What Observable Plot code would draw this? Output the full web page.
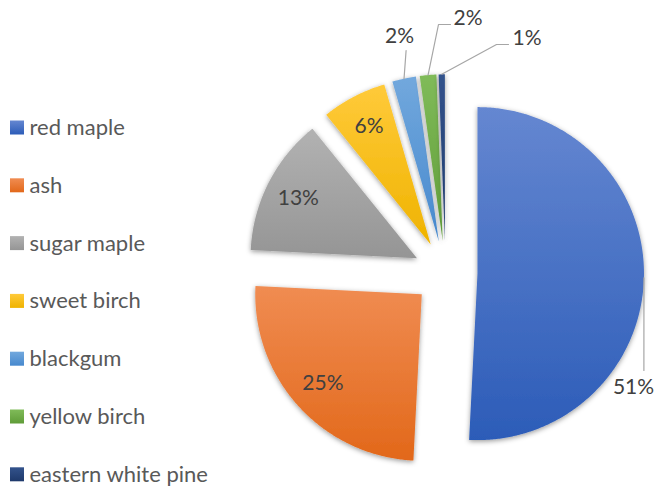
<!DOCTYPE html>
<html>
<head>
<meta charset="utf-8">
<script src="https://cdn.jsdelivr.net/npm/d3@7"></script>
<script src="https://cdn.jsdelivr.net/npm/@observablehq/plot@0.6"></script>
<style>
  html, body { margin: 0; padding: 0; background: #fff; }
  #chart svg { display: block; }
</style>
</head>
<body>
<div id="chart"></div>
<script>
// ---- data ----
const species = ["red maple", "ash", "sugar maple", "sweet birch", "blackgum", "yellow birch", "eastern white pine"];
const shares = [50.8, 25.0, 13.4, 6.3, 2.3, 1.6, 0.6];
const pctLabels = ["51%", "25%", "13%", "6%", "2%", "2%", "1%"];

// ---- styles ----
const topColors = ["#6587D1", "#F08C52", "#B2B2B2", "#FFCA3A", "#72A8DD", "#80BB59", "#33538C"];
const bottomColors = ["#2C5CB8", "#E2681A", "#959595", "#EFB300", "#4789CE", "#5F9C38", "#1E396B"];

// ---- layout ----
const W = 655, H = 487;
const cx = 445, cy = 272.3, R = 166.5, explode = 32;
const insideLabelRadius = 0.8;
const outside = {
  "red maple":          {path: [[643.4, 370]], label: [633, 387], anchor: "middle"},
  "blackgum":           {path: [[405.6, 50]], label: [399, 36], anchor: "middle"},
  "yellow birch":       {path: [[438, 24], [450, 24]], label: [453, 18], anchor: "start"},
  "eastern white pine": {path: [[496, 44], [508, 44]], label: [512, 38], anchor: "start"}
};

const total = d3.sum(shares);
const rad = d => d * Math.PI / 180;
const dir = a => [Math.sin(rad(a)), -Math.cos(rad(a))];

let acc = 0;
const slices = species.map((name, i) => {
  const a0 = acc / total * 360;
  acc += shares[i];
  const a1 = acc / total * 360;
  const mid = (a0 + a1) / 2;
  const [dx, dy] = dir(mid);
  const apex = [cx + explode * dx, cy + explode * dy];
  const pts = [{x: apex[0], y: apex[1], name}];
  const n = Math.max(2, Math.ceil((a1 - a0) / 0.5));
  for (let k = 0; k <= n; k++) {
    const a = a0 + (a1 - a0) * k / n;
    const [ux, uy] = dir(a);
    pts.push({x: apex[0] + R * ux, y: apex[1] + R * uy, name});
  }
  pts.push({x: apex[0], y: apex[1], name});
  return {name, i, a0, a1, mid, apex, pts};
});

const insideLabels = [];
const outsideLabels = [];
const leaders = [];
slices.forEach(s => {
  const [ux, uy] = dir(s.mid);
  if (outside[s.name]) {
    const o = outside[s.name];
    const start = {x: s.apex[0] + R * ux, y: s.apex[1] + R * uy};
    leaders.push([start, ...o.path.map(p => ({x: p[0], y: p[1]}))]);
    outsideLabels.push({x: o.label[0], y: o.label[1], text: pctLabels[s.i], anchor: o.anchor});
  } else {
    insideLabels.push({x: s.apex[0] + R * insideLabelRadius * ux, y: s.apex[1] + R * insideLabelRadius * uy, text: pctLabels[s.i]});
  }
});

const legendRows = species.map((name, i) => ({name, i, y: 127.5 + i * 57.8}));

const marks = [];
slices.forEach(s => {
  marks.push(Plot.line(s.pts, {x: "x", y: "y", fill: `url(#grad${s.i})`, stroke: "none"}));
});
leaders.forEach(l => {
  marks.push(Plot.line(l, {x: "x", y: "y", stroke: "#A6A6A6", strokeWidth: 1.2}));
});
marks.push(Plot.text(insideLabels, {x: "x", y: "y", text: "text", fontSize: 21, fill: "#404040", textAnchor: "middle", lineAnchor: "middle"}));
marks.push(Plot.text(outsideLabels.filter(d => d.anchor === "middle"), {x: "x", y: "y", text: "text", fontSize: 21, fill: "#404040", textAnchor: "middle", lineAnchor: "middle"}));
marks.push(Plot.text(outsideLabels.filter(d => d.anchor === "start"), {x: "x", y: "y", text: "text", fontSize: 21, fill: "#404040", textAnchor: "start", lineAnchor: "middle"}));
legendRows.forEach(r => {
  marks.push(Plot.rect([r], {x1: () => 10, x2: () => 24, y1: d => d.y - 7, y2: d => d.y + 7, fill: `url(#grad${r.i})`}));
});
marks.push(Plot.text(legendRows, {x: () => 29, y: "y", text: "name", fontSize: 22, fill: "#595959", textAnchor: "start", lineAnchor: "middle"}));

const chart = Plot.plot({
  width: W,
  height: H,
  margin: 0,
  x: {domain: [0, W], range: [0, W], axis: null},
  y: {domain: [0, H], range: [0, H], axis: null},
  style: {fontFamily: "Lato, 'Open Sans', sans-serif", background: "white", overflow: "visible"},
  marks
});

const ns = "http://www.w3.org/2000/svg";
const defs = document.createElementNS(ns, "defs");
topColors.forEach((c, i) => {
  const g = document.createElementNS(ns, "linearGradient");
  g.setAttribute("id", `grad${i}`);
  g.setAttribute("x1", "0"); g.setAttribute("y1", "0");
  g.setAttribute("x2", "0"); g.setAttribute("y2", "1");
  [[0, c], [1, bottomColors[i]]].forEach(([o, col]) => {
    const st = document.createElementNS(ns, "stop");
    st.setAttribute("offset", o);
    st.setAttribute("stop-color", col);
    g.appendChild(st);
  });
  defs.appendChild(g);
});
const f = document.createElementNS(ns, "filter");
f.setAttribute("id", "pieshadow");
f.setAttribute("filterUnits", "userSpaceOnUse");
f.setAttribute("x", "0"); f.setAttribute("y", "0");
f.setAttribute("width", String(W)); f.setAttribute("height", String(H));
const fe = document.createElementNS(ns, "feDropShadow");
fe.setAttribute("dx", "0"); fe.setAttribute("dy", "1.5");
fe.setAttribute("stdDeviation", "2.5");
fe.setAttribute("flood-color", "#000");
fe.setAttribute("flood-opacity", "0.4");
f.appendChild(fe);
defs.appendChild(f);
chart.insertBefore(defs, chart.firstChild);
chart.querySelectorAll('g[aria-label="line"]').forEach(g => {
  const paths = g.querySelectorAll("path");
  paths.forEach(p => {
    const fill = p.getAttribute("fill") || g.getAttribute("fill") || "";
    if (fill.startsWith("url(")) p.setAttribute("filter", "url(#pieshadow)");
  });
});

document.getElementById("chart").appendChild(chart);
</script>
</body>
</html>
